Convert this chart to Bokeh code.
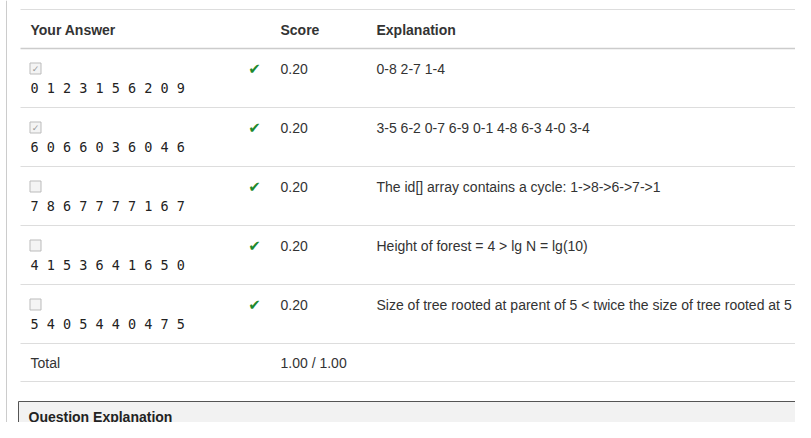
from bokeh.plotting import figure
from bokeh.models import Range1d
from bokeh.core.properties import value
from bokeh.embed import file_html
from bokeh.resources import INLINE

answers = ["0 1 2 3 1 5 6 2 0 9", "6 0 6 6 0 3 6 0 4 6", "7 8 6 7 7 7 7 1 6 7",
           "4 1 5 3 6 4 1 6 5 0", "5 4 0 5 4 4 0 4 7 5"]
checked = [True, True, False, False, False]
scores = ["0.20"] * 5
explanations = ["0-8 2-7 1-4",
                "3-5 6-2 0-7 6-9 0-1 4-8 6-3 4-0 3-4",
                "The id[] array contains a cycle: 1->8->6->7->1",
                "Height of forest = 4 > lg N = lg(10)",
                "Size of tree rooted at parent of 5 < twice the size of tree rooted at 5"]
headers = ["Your Answer", "Score", "Explanation"]
total_label, total_value = "Total", "1.00 / 1.00"

p = figure(width=795, height=422, output_backend="svg", toolbar_location=None,
           x_range=Range1d(0, 795), y_range=Range1d(422, 0), min_border=0)
p.axis.visible = False
p.grid.visible = False
p.outline_line_color = None
p.background_fill_color = "white"

F = value("Liberation Sans")
col_x = [30, 280, 376]
p.segment(x0=[6], y0=[0], x1=[6], y1=[440], line_color="#cccccc", line_width=1)
p.segment(x0=[20], y0=[9], x1=[811], y1=[9], line_color="#dddddd")
p.text(x=col_x, y=[29]*3, text=headers, text_font=F, text_font_style="bold",
       text_font_size="14px", text_color="#333333", text_baseline="middle")
p.segment(x0=[20], y0=[48], x1=[811], y1=[48], line_color="#cccccc", line_width=1.5)

n = len(answers)
tops = [48 + 59 * i for i in range(n)]
ys1 = [t + 20 for t in tops]
ys2 = [t + 39 for t in tops]
p.rect(x=[35]*n, y=ys1, width=11, height=11, fill_color="#f4f4f4", line_color="#bbbbbb")
cy = [y for y, c in zip(ys1, checked) if c]
p.text(x=[35]*len(cy), y=cy, text=["✓"]*len(cy), text_font=value("DejaVu Sans"),
       text_font_size="9px", text_color="#999999", text_align="center", text_baseline="middle")
p.text(x=[30]*n, y=ys2, text=answers, text_font=value("DejaVu Sans Mono"),
       text_font_size="13.5px", text_color="#222222", text_baseline="middle")
p.text(x=[254]*n, y=ys1, text=["✔"]*n, text_font=value("DejaVu Sans"),
       text_font_size="15px", text_color="#1e8a2e", text_align="center", text_baseline="middle")
p.text(x=[280]*n, y=ys1, text=scores, text_font=F, text_font_size="14px",
       text_color="#333333", text_baseline="middle")
p.text(x=[376]*n, y=ys1, text=explanations, text_font=F, text_font_size="14px",
       text_color="#333333", text_baseline="middle")
seps = [t + 59 for t in tops]
p.segment(x0=[20]*n, y0=seps, x1=[811]*n, y1=seps, line_color="#dddddd")

ty = seps[-1] + 19
p.text(x=[30, 280], y=[ty, ty], text=[total_label, total_value], text_font=F,
       text_font_size="14px", text_color="#333333", text_baseline="middle")
p.segment(x0=[20], y0=[ty + 19], x1=[811], y1=[ty + 19], line_color="#dddddd")

p.quad(left=[18], right=[820], top=[401], bottom=[445], fill_color="#f2f2f2", line_color="#555555")
p.text(x=[28], y=[416], text=["Question Explanation"], text_font=F, text_font_style="bold",
       text_font_size="14px", text_color="#222222", text_baseline="middle")

open("out.html", "w").write(file_html(p, INLINE))
